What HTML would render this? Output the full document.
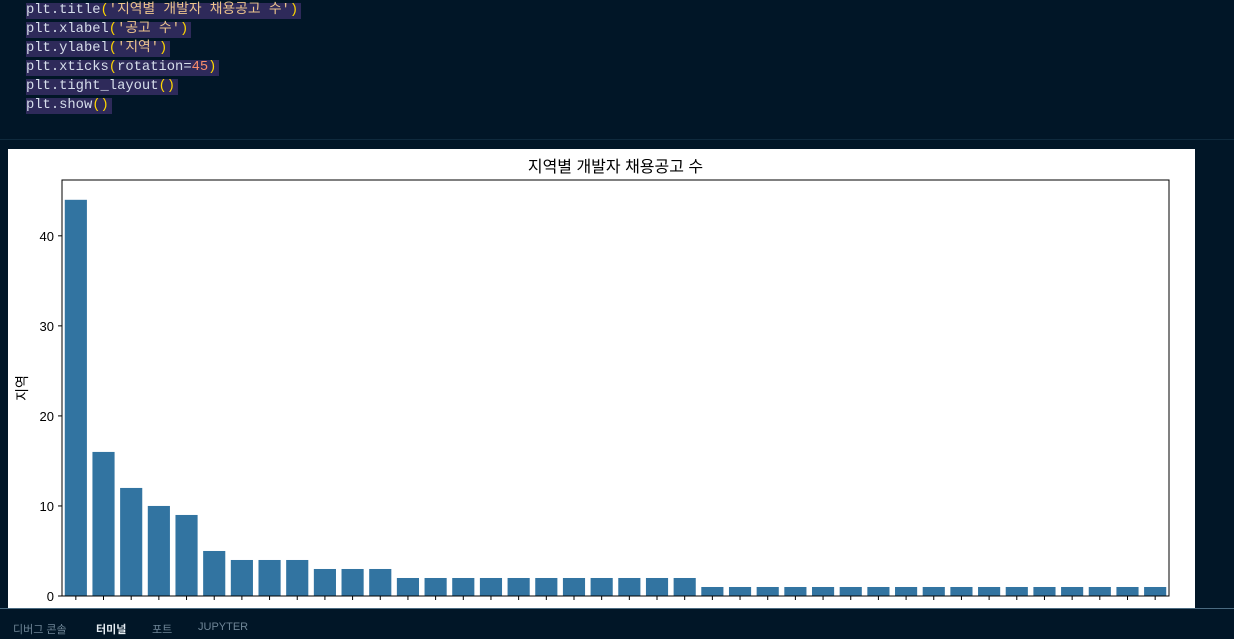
<!DOCTYPE html>
<html><head><meta charset="utf-8"><style>
body{margin:0;width:1234px;height:638px;overflow:hidden;background:#011627;font-family:"Liberation Sans","Noto Sans CJK KR",sans-serif;position:relative}
.code{position:absolute;left:26px;font-family:"Liberation Mono","Noto Sans CJK KR",monospace;font-size:13.8px;color:#d6deeb;line-height:18px}
.code span.hl{background:#2e2a5a;padding:0 3px 1px 0}
.p{color:#ffd700}.n{color:#f78c6c}.s{color:#ecc48d}
</style></head><body>
<div>
<div class="code" style="top:2px"><span class="hl">plt.title<span class="p">(</span><span class="s">'지역별 개발자 채용공고 수'</span><span class="p">)</span></span></div>
<div class="code" style="top:21px"><span class="hl">plt.xlabel<span class="p">(</span><span class="s">'공고 수'</span><span class="p">)</span></span></div>
<div class="code" style="top:40px"><span class="hl">plt.ylabel<span class="p">(</span><span class="s">'지역'</span><span class="p">)</span></span></div>
<div class="code" style="top:59px"><span class="hl">plt.xticks<span class="p">(</span>rotation=<span class="n">45</span><span class="p">)</span></span></div>
<div class="code" style="top:78px"><span class="hl">plt.tight_layout<span class="p">()</span></span></div>
<div class="code" style="top:97px"><span class="hl">plt.show<span class="p">()</span></span></div>
</div>
<div style="position:absolute;left:0;top:139px;width:1234px;height:1px;background:#0f2a3d"></div>
<div style="position:absolute;left:8px;top:149px;width:1187px;height:459px;background:#fff;overflow:hidden">
<svg id="chart" width="1187" height="459" style="position:absolute;left:-8px;top:-149px;overflow:visible" xmlns="http://www.w3.org/2000/svg"></svg>
</div>
<div style="position:absolute;left:0;top:608px;width:1234px;height:30px;background:#011627;border-top:1px solid #4a6a80;font-size:11px;color:#6e8596">
<span style="position:absolute;left:13px;top:12px">디버그 콘솔</span>
<span style="position:absolute;left:96px;top:12px;color:#e6edf3;font-weight:bold">터미널</span>
<span style="position:absolute;left:152px;top:12px">포트</span>
<span style="position:absolute;left:198px;top:12px">JUPYTER</span>
</div>
<script>
const categories=["서울 강남구","서울 서초구","경기 성남시","서울 송파구","서울 마포구","서울 영등포구","서울 구로구","경기 수원시","서울 금천구","서울 성동구","부산 해운대구","서울 중구","경기 안양시","서울 강서구","대전 유성구","서울 용산구","경기 용인시","서울 종로구","인천 연수구","경기 화성시","서울 광진구","대구 동구","경기 고양시","경기 부천시","서울 동작구","서울 관악구","광주 북구","부산 부산진구","울산 남구","경기 하남시","경기 과천시","서울 강동구","세종시","경기 안산시","충북 청주시","경남 창원시","제주 제주시","서울 노원구","전북 전주시","경기 평택시"];
const values=[44,16,12,10,9,5,4,4,4,3,3,3,2,2,2,2,2,2,2,2,2,2,2,1,1,1,1,1,1,1,1,1,1,1,1,1,1,1,1,1];
const yTicks=[0,10,20,30,40];
const svg=document.getElementById('chart');const NS="http://www.w3.org/2000/svg";
const L=62,R=1169,T=180,B=596,ymax=46.2;
const band=(R-L)/categories.length;
const xs=i=>L+band*(i+0.5);
const ys=v=>B-(v/ymax)*(B-T);
function el(t,a){const e=document.createElementNS(NS,t);for(const k in a)e.setAttribute(k,a[k]);svg.appendChild(e);return e;}
values.forEach((v,i)=>{const r=el('rect',{x:xs(i)-band*0.4,y:ys(v),width:band*0.8,height:B-ys(v),fill:'#3274a1'});

});
const ax=el('rect',{x:L,y:T,width:R-L,height:B-T,fill:'none',stroke:'#000','stroke-width':1});


yTicks.forEach(t=>{el('line',{x1:L-4,x2:L,y1:ys(t),y2:ys(t),stroke:'#000'});
const tx=el('text',{x:L-8,y:ys(t)+5,'text-anchor':'end','font-size':13,fill:'#000'});tx.textContent=t;

});
categories.forEach((c,i)=>{el('line',{x1:xs(i),x2:xs(i),y1:B,y2:B+4,stroke:'#000'});
const ax0=xs(i)+10,ay0=B+19;
const tx=el('text',{x:ax0,y:ay0,'text-anchor':'end','font-size':12,fill:'#000',transform:`rotate(-45 ${ax0} ${ay0})`});tx.textContent=c;

});
const ti=el('text',{x:(L+R)/2,y:172,'text-anchor':'middle','font-size':16,fill:'#000'});ti.textContent='지역별 개발자 채용공고 수';


const yl=el('text',{x:27,y:388,'text-anchor':'middle','font-size':14,fill:'#000',transform:'rotate(-90 27 388)'});yl.textContent='지역';


</script>
<div style="position:absolute;left:1195px;top:149px;width:39px;height:459px;background:#011627"></div>
</body></html>
